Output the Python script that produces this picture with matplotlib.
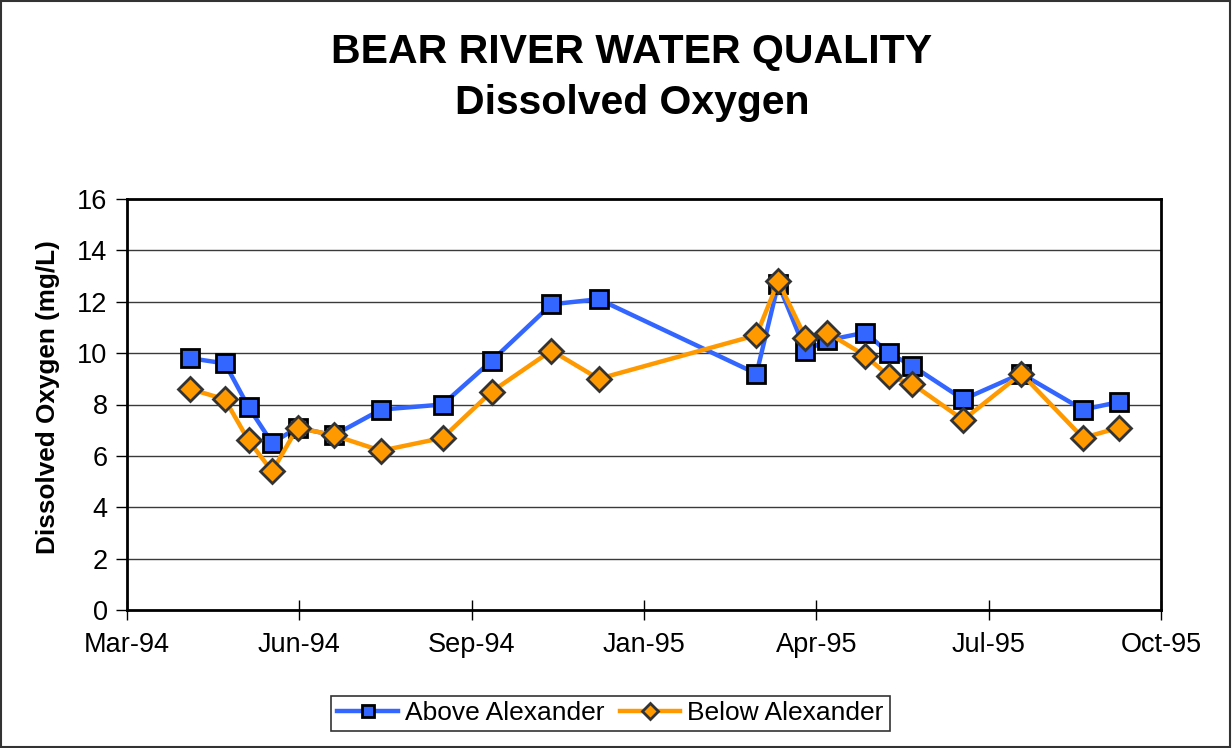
import matplotlib
matplotlib.use("Agg")
import matplotlib.pyplot as plt
import matplotlib.patches as mpatches
from datetime import datetime, timedelta

# ---- data ----
dates = ['1994-04-26', '1994-05-15', '1994-05-28', '1994-06-10', '1994-06-24',
         '1994-07-14', '1994-08-09', '1994-09-12', '1994-10-09', '1994-11-11',
         '1994-12-07', '1995-03-04', '1995-03-16', '1995-03-31', '1995-04-12',
         '1995-05-03', '1995-05-16', '1995-05-29', '1995-06-26', '1995-07-28',
         '1995-08-31', '1995-09-20']
above = [9.8, 9.6, 7.9, 6.5, 7.1, 6.8, 7.8, 8.0, 9.7, 11.9, 12.1,
         9.2, 12.7, 10.1, 10.5, 10.8, 10.0, 9.5, 8.2, 9.2, 7.8, 8.1]
below = [8.6, 8.2, 6.6, 5.4, 7.1, 6.8, 6.2, 6.7, 8.5, 10.1, 9.0,
         10.7, 12.8, 10.6, 10.8, 9.9, 9.1, 8.8, 7.4, 9.2, 6.7, 7.1]
series_names = ['Above Alexander', 'Below Alexander']
x_tick_labels = ['Mar-94', 'Jun-94', 'Sep-94', 'Jan-95', 'Apr-95', 'Jul-95', 'Oct-95']
y_ticks = [0, 2, 4, 6, 8, 10, 12, 14, 16]
title_lines = ['BEAR RIVER WATER QUALITY', 'Dissolved Oxygen']
y_label = 'Dissolved Oxygen (mg/L)'

x_start = datetime(1994, 3, 22)
tick_step_days = 95

plt.rcParams['font.family'] = ['Liberation Sans', 'DejaVu Sans']

fig = plt.figure(figsize=(12.32, 7.48), dpi=100)
ax = fig.add_axes([127/1232, 1-610/748, (1161-127)/1232, (610-199)/748])

xd = [datetime.strptime(d, '%Y-%m-%d') for d in dates]

ax.plot(xd, above, color='#3366FF', lw=3.2, marker='s', markersize=13,
        markerfacecolor='#3366FF', markeredgecolor='#000000', markeredgewidth=2,
        label=series_names[0], zorder=3)
ax.plot(xd, below, color='#FF9900', lw=3.2, marker='D', markersize=12,
        markerfacecolor='#FF9900', markeredgecolor='#333333', markeredgewidth=2,
        label=series_names[1], zorder=4)

ticks = [x_start + timedelta(days=tick_step_days*i) for i in range(len(x_tick_labels))]
ax.set_xlim(ticks[0], ticks[-1])
ax.set_xticks(ticks)
ax.set_xticklabels(x_tick_labels)
ax.set_ylim(0, 16)
ax.set_yticks(y_ticks)

for y in y_ticks[1:-1]:
    ax.axhline(y, color='#3a3a3a', lw=1.0, zorder=1)

for s in ax.spines.values():
    s.set_linewidth(2)
    s.set_color('black')

ax.tick_params(axis='both', direction='inout', length=14, width=1, labelsize=19.5,
               colors='black')
ax.tick_params(axis='x', pad=9)
ax.tick_params(axis='y', pad=6, direction='out', length=8)

ax.set_ylabel(y_label, fontsize=18.8, fontweight='bold')
ax.yaxis.set_label_coords((60-127)/1034, (610-397)/411)

fig.text(632/1232, 1-52/748, title_lines[0], ha='center', va='center',
         fontsize=29.5, fontweight='bold')
fig.text(632/1232, 1-103/748, title_lines[1], ha='center', va='center',
         fontsize=29.5, fontweight='bold')

leg = fig.legend(loc='center', bbox_to_anchor=(610.5/1232, 1-713.5/748), ncol=2,
                 fontsize=19, frameon=True, fancybox=False, shadow=False,
                 handlelength=2.3, handletextpad=0.27, columnspacing=0.57,
                 borderpad=0.22, borderaxespad=0, markerscale=0.68)
leg.get_frame().set_edgecolor('black')
leg.get_frame().set_linewidth(1.2)

fig.patches.append(mpatches.Rectangle((0.001, 0.001), 0.997, 0.997, transform=fig.transFigure,
                                      fill=False, edgecolor='#333333', lw=1.5))

fig.savefig('out.png', dpi=100)
